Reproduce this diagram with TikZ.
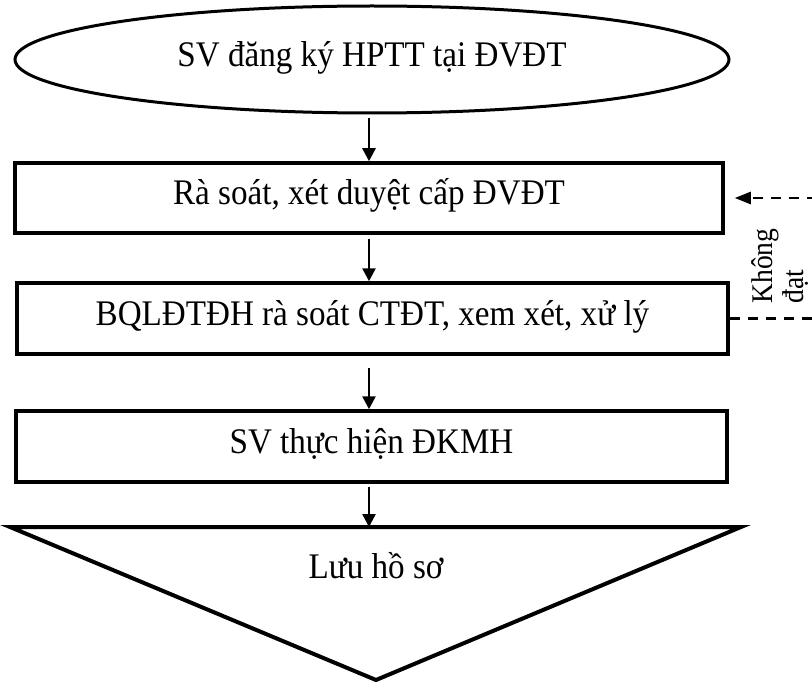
\documentclass[tikz,border=0pt]{standalone}
\usepackage{fontspec}
\setmainfont[FakeStretch=0.92]{Liberation Serif}
\usetikzlibrary{arrows.meta,shapes.geometric}
\begin{document}
\begin{tikzpicture}[x=1pt,y=-1pt,
  txt/.style={font=\fontsize{36}{40}\selectfont, text height=22pt, text depth=8pt, inner sep=0pt},
  stepbox/.style={txt, draw, line width=3.5pt, rectangle, minimum width=710pt, minimum height=71pt},
  startshape/.style={txt, draw, line width=3pt, ellipse, minimum width=714pt, minimum height=107pt},
  arr/.style={line width=2.5pt, -{Triangle[length=13pt,width=13pt]}},
  dashline/.style={line width=2.5pt, dash pattern=on 10pt off 8pt, -{Triangle[length=16pt,width=12pt]}}
]
\useasboundingbox (0,0) rectangle (812,682);
\node[startshape] (ell) at (372,59.5) {SV đăng ký HPTT tại ĐVĐT};
\node[stepbox, minimum width=708pt, minimum height=70pt] (box1) at (369,198) {Rà soát, xét duyệt cấp ĐVĐT};
\node[stepbox, minimum width=711pt] (box2) at (372.5,318.5) {BQLĐTĐH rà soát CTĐT, xem xét, xử lý};
\node[stepbox, minimum width=711pt] (box3) at (371.5,446.5) {SV thực hiện ĐKMH};
\coordinate (tl) at (10,527);
\coordinate (tr) at (741,527);
\coordinate (apex) at (376,680);
\draw[line width=4pt, line join=miter] (tl) -- (tr) -- (apex) -- cycle;
\node[txt, anchor=base] (store) at (376,578) {Lưu hồ sơ};
\coordinate (ax) at (369,0);
\draw[arr, shorten <=4pt] (ax |- ell.south) -- (ax |- box1.north);
\draw[arr, shorten <=4pt] (ax |- box1.south) -- (ax |- box2.north);
\draw[arr, shorten <=12pt] (ax |- box2.south) -- (ax |- box3.north);
\draw[arr, shorten <=3pt] (ax |- box3.south) -- (ax |- tl);
\coordinate (turn) at (830,318.5);
\draw[dashline, shorten >=10pt] (box2.east) -- (turn) |- (box1.east);
\node[rotate=90, align=left, font=\fontsize{30}{31}\selectfont, inner sep=0pt] (lbl) at (780,266) {Không\\đạt};
\end{tikzpicture}
\end{document}
